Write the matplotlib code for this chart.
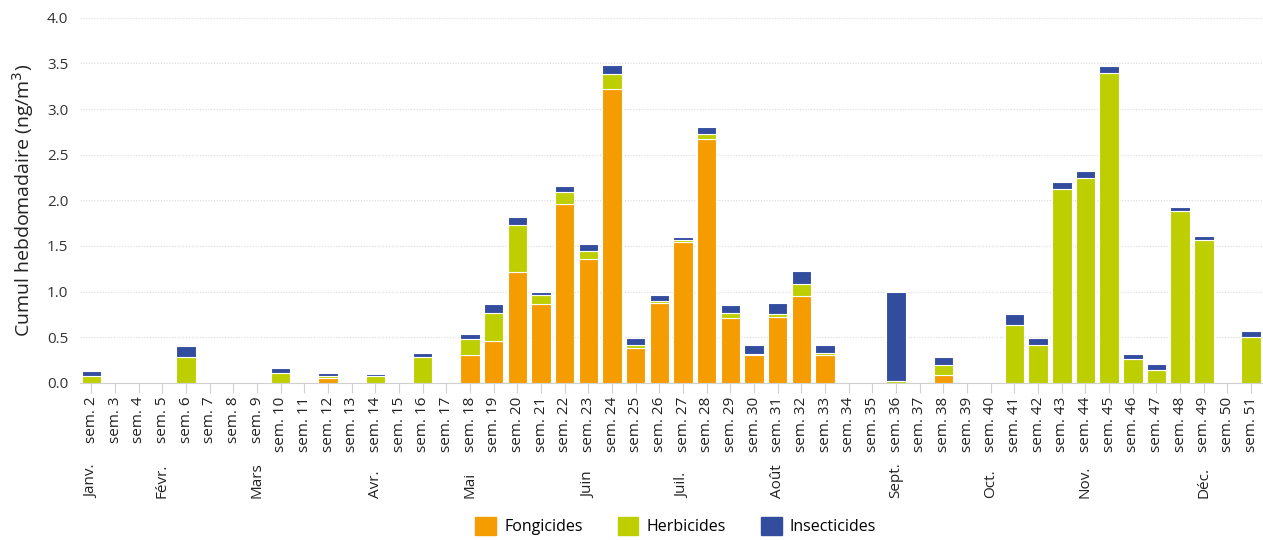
# ==========================================================
# Cumul hebdomadaire des pesticides - stacked bar chart
# ==========================================================

import numpy as np
import matplotlib
matplotlib.use("Agg")
import matplotlib.pyplot as plt
from matplotlib.patches import Patch
import matplotlib.transforms as mtransforms

# ==========================
# Data
# ==========================

weeks = list(range(2, 52))
week_labels = ["sem. %d" % w for w in weeks]

fongicides = [
    0.00, 0, 0, 0, 0.00, 0, 0, 0, 0.00, 0, 0.055, 0, 0.00, 0, 0.00, 0,
    0.30, 0.46, 1.21, 0.86, 1.96, 1.36, 3.22, 0.38, 0.88, 1.54, 2.67, 0.71,
    0.30, 0.72, 0.95, 0.31, 0, 0, 0.00, 0, 0.09, 0, 0, 0.00, 0.00, 0.00,
    0.00, 0.00, 0.00, 0.00, 0.00, 0.00, 0, 0.00,
]

herbicides = [
    0.08, 0, 0, 0, 0.28, 0, 0, 0, 0.11, 0, 0.015, 0, 0.07, 0, 0.28, 0,
    0.18, 0.31, 0.52, 0.10, 0.13, 0.08, 0.16, 0.03, 0.02, 0.02, 0.06, 0.06,
    0.02, 0.03, 0.13, 0.02, 0, 0, 0.02, 0, 0.11, 0, 0, 0.63, 0.41, 2.12,
    2.25, 3.39, 0.26, 0.14, 1.88, 1.57, 0, 0.50,
]

insecticides = [
    0.05, 0, 0, 0, 0.12, 0, 0, 0, 0.05, 0, 0.04, 0, 0.03, 0, 0.05, 0,
    0.06, 0.09, 0.09, 0.04, 0.07, 0.08, 0.10, 0.08, 0.06, 0.04, 0.07, 0.08,
    0.09, 0.12, 0.15, 0.08, 0, 0, 0.98, 0, 0.08, 0, 0, 0.13, 0.08, 0.08,
    0.07, 0.08, 0.06, 0.07, 0.05, 0.04, 0, 0.07,
]

months = ["Janv.", "Févr.", "Mars", "Avr.", "Mai", "Juin",
          "Juil.", "Août", "Sept.", "Oct.", "Nov.", "Déc."]
month_weeks = [2, 5, 9, 14, 18, 23, 27, 31, 36, 40, 44, 49]

# ==========================
# Style
# ==========================

plt.rcParams["font.family"] = ["Open Sans", "DejaVu Sans"]

ORANGE = "#F59C00"
GREEN = "#BDCF00"
BLUE = "#334D9E"

# ==========================
# Figure
# ==========================

fig = plt.figure(figsize=(12.63, 5.40), dpi=100)
ax = fig.add_axes([0.063, 0.291, 0.937, 0.676])

x = np.arange(len(weeks))
f = np.array(fongicides)
h = np.array(herbicides)
i = np.array(insecticides)

width = 0.82
ax.bar(x, f, width, color=ORANGE, edgecolor="white", linewidth=0.8, zorder=3)
ax.bar(x, h, width, bottom=f, color=GREEN, edgecolor="white", linewidth=0.8, zorder=3)
ax.bar(x, i, width, bottom=f + h, color=BLUE, edgecolor="white", linewidth=0.8, zorder=3)

ax.set_xlim(-0.5, len(weeks) - 0.5)
ax.set_ylim(0, 4.0)
ax.set_yticks(np.arange(0, 4.01, 0.5))
ax.set_yticklabels(["%.1f" % v for v in np.arange(0, 4.01, 0.5)], fontsize=11, color="#333333")

ax.yaxis.grid(True, linestyle=(0, (1, 1.5)), color="#d9d9d9", linewidth=0.8, zorder=0)
ax.set_axisbelow(True)

ax.set_xticks(x)
ax.set_xticklabels(week_labels, rotation=90, fontsize=11, color="#222222")
ax.tick_params(axis="x", length=7, color="#d0d0d0", pad=3)
ax.tick_params(axis="y", length=0, pad=8)

for side in ["top", "right", "left"]:
    ax.spines[side].set_visible(False)
ax.spines["bottom"].set_color("#d0d0d0")

ax.set_ylabel("Cumul hebdomadaire (ng/m$^3$)", fontsize=14, color="#222222", labelpad=8)

# ==========================
# Month labels
# ==========================

trans = mtransforms.blended_transform_factory(ax.transData, fig.transFigure)
for name, wk in zip(months, month_weeks):
    ax.text(weeks.index(wk), 1 - 498 / 540, name, rotation=90, ha="center",
            va="bottom", fontsize=11, color="#222222", transform=trans)

# ==========================
# Legend
# ==========================

handles = [Patch(color=ORANGE, label="Fongicides"),
           Patch(color=GREEN, label="Herbicides"),
           Patch(color=BLUE, label="Insecticides")]
fig.legend(handles=handles, loc="lower center", bbox_to_anchor=(0.535, -0.018),
           ncol=3, frameon=False, fontsize=11.5, handlelength=1.3,
           handleheight=1.3, columnspacing=2.2, handletextpad=0.5)

fig.savefig("out.png", dpi=100)
